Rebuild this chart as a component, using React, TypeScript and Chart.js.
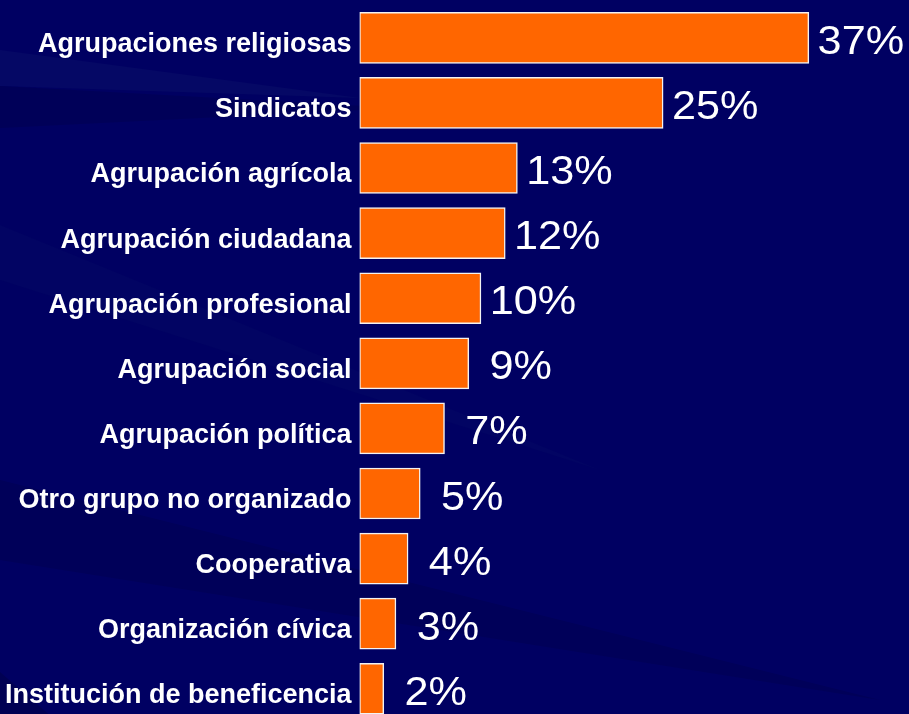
import React, { useEffect, useRef } from "react";
import { Chart, registerables } from "chart.js";

Chart.register(...registerables);

const categories: string[] = [
  "Agrupaciones religiosas",
  "Sindicatos",
  "Agrupación agrícola",
  "Agrupación ciudadana",
  "Agrupación profesional",
  "Agrupación social",
  "Agrupación política",
  "Otro grupo no organizado",
  "Cooperativa",
  "Organización cívica",
  "Institución de beneficencia",
];

const values: number[] = [37, 25, 13, 12, 10, 9, 7, 5, 4, 3, 2];

const valueLabels: string[] = ["37%", "25%", "13%", "12%", "10%", "9%", "7%", "5%", "4%", "3%", "2%"];

const bgPlugin = {
  id: "slideBackground",
  beforeDraw(chart: any) {
    const { ctx, width, height } = chart;
    ctx.save();
    ctx.fillStyle = "#000062";
    ctx.fillRect(0, 0, width, height);
    // subtle diagonal streaks
    ctx.fillStyle = "rgba(25,35,115,0.22)";
    ctx.beginPath();
    ctx.moveTo(0, 50);
    ctx.lineTo(360, 98);
    ctx.lineTo(0, 86);
    ctx.closePath();
    ctx.fill();
    ctx.fillStyle = "rgba(0,0,60,0.25)";
    ctx.beginPath();
    ctx.moveTo(0, 86);
    ctx.lineTo(400, 108);
    ctx.lineTo(0, 128);
    ctx.closePath();
    ctx.fill();
    ctx.fillStyle = "rgba(20,30,110,0.12)";
    ctx.beginPath();
    ctx.moveTo(0, 225);
    ctx.lineTo(600, 470);
    ctx.lineTo(0, 280);
    ctx.closePath();
    ctx.fill();
    ctx.fillStyle = "rgba(0,0,50,0.18)";
    ctx.beginPath();
    ctx.moveTo(0, 480);
    ctx.lineTo(880, 700);
    ctx.lineTo(0, 560);
    ctx.closePath();
    ctx.fill();
    ctx.fillStyle = "rgba(0,0,50,0.3)";
    ctx.beginPath();
    ctx.moveTo(0, 672);
    ctx.lineTo(60, 724);
    ctx.lineTo(0, 724);
    ctx.closePath();
    ctx.fill();
    ctx.restore();
  },
};

const valuePlugin = {
  id: "valueLabels",
  afterDatasetsDraw(chart: any) {
    const { ctx } = chart;
    const meta = chart.getDatasetMeta(0);
    ctx.save();
    ctx.fillStyle = "#ffffff";
    ctx.font = '40px "Liberation Sans", Arial, sans-serif';
    ctx.textAlign = "center";
    ctx.textBaseline = "middle";
    meta.data.forEach((bar: any, i: number) => {
      ctx.save();
      ctx.translate(bar.x + 52, bar.y + 5);
      ctx.scale(1.08, 1);
      ctx.fillText(valueLabels[i], 0, 0);
      ctx.restore();
    });
    ctx.restore();
  },
};

export default function App() {
  const canvasRef = useRef<HTMLCanvasElement | null>(null);

  useEffect(() => {
    if (!canvasRef.current) return;
    const chart = new Chart(canvasRef.current, {
      type: "bar",
      data: {
        labels: categories,
        datasets: [
          {
            data: values,
            backgroundColor: "#FF6600",
            borderColor: "#F2F2F2",
            borderWidth: 1.5,
            borderSkipped: false,
            barThickness: 51,
          },
        ],
      },
      options: {
        indexAxis: "y",
        animation: false,
        responsive: false,
        devicePixelRatio: 1,
        layout: { padding: { top: 5.3, bottom: 2.7, left: 0, right: 3 } },
        plugins: {
          legend: { display: false },
          tooltip: { enabled: false },
        },
        scales: {
          x: { type: "linear", min: 0, max: 45, display: false },
          y: {
            type: "category",
            grid: { display: false, drawTicks: false },
            border: { display: false },
            ticks: {
              color: "#ffffff",
              autoSkip: false,
              padding: 8,
              labelOffset: 7,
              font: { family: '"Liberation Sans", Arial, sans-serif', size: 27, weight: "bold" },
            },
            afterFit(scale: any) {
              scale.width = 359.5;
              scale.paddingTop = 0;
              scale.paddingBottom = 0;
            },
          },
        },
      } as any,
      plugins: [bgPlugin, valuePlugin],
    });
    return () => chart.destroy();
  }, []);

  return (
    <div
      style={{
        position: "fixed",
        left: 0,
        top: 0,
        width: 909,
        height: 714,
        overflow: "hidden",
        background: "#000062",
      }}
    >
      <canvas ref={canvasRef} width={909} height={724} style={{ display: "block", width: 909, height: 724 }} />
    </div>
  );
}
